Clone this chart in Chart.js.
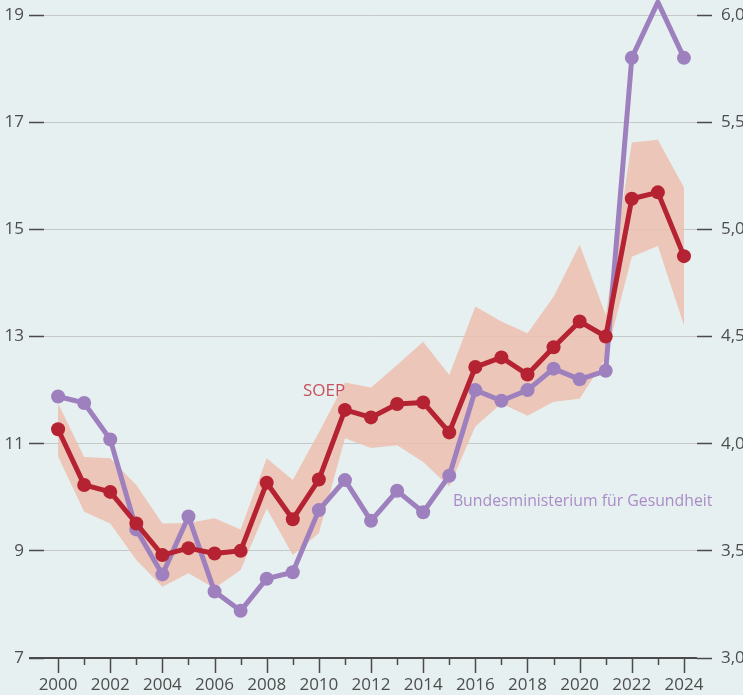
<!DOCTYPE html>
<html>
<head>
<meta charset="utf-8">
<script src="https://cdn.jsdelivr.net/npm/chart.js@4/dist/chart.umd.min.js"></script>
<style>
  html, body { margin: 0; padding: 0; background: #e7f0f1; overflow: hidden; }
  #wrap { width: 743px; height: 695px; position: relative; }
  canvas { display: block; }
</style>
</head>
<body>
<div id="wrap"><canvas id="c" width="743" height="695"></canvas></div>
<script>
// ---- data ----
const years = [2000,2001,2002,2003,2004,2005,2006,2007,2008,2009,2010,2011,2012,2013,2014,2015,2016,2017,2018,2019,2020,2021,2022,2023,2024];
// SOEP (left axis)
const soep = [11.27,10.23,10.10,9.51,8.92,9.05,8.95,9.00,10.27,9.59,10.33,11.63,11.49,11.74,11.77,11.21,12.43,12.61,12.29,12.80,13.28,13.00,15.57,15.69,14.50];
const soepUpper = [11.75,10.75,10.73,10.23,9.51,9.52,9.61,9.40,10.73,10.32,11.21,12.14,12.05,12.47,12.90,12.28,13.56,13.28,13.06,13.74,14.71,13.40,16.62,16.67,15.78];
const soepLower = [10.76,9.73,9.51,8.83,8.33,8.58,8.30,8.64,9.79,8.92,9.33,11.10,10.92,10.97,10.66,10.20,11.32,11.75,11.52,11.78,11.84,12.60,14.49,14.69,13.21];
// Bundesministerium für Gesundheit (right axis, percent)
const bmg = [4.22,4.19,4.02,3.60,3.39,3.66,3.31,3.22,3.37,3.40,3.69,3.83,3.64,3.78,3.68,3.85,4.25,4.20,4.25,4.35,4.30,4.34,5.80,6.06,5.80];
const leftTicks = [7,9,11,13,15,17,19];
const rightTicks = [3.0,3.5,4.0,4.5,5.0,5.5,6.0];
const labelSoep = 'SOEP';
const labelBmg = 'Bundesministerium für Gesundheit';

const pts = arr => years.map((y, i) => ({x: y, y: arr[i]}));

const RED = '#b52231';
const PURPLE = '#9d80bd';
const BAND = 'rgba(236,190,175,0.85)';
const TICKC = '#4a4a4a';

Chart.defaults.font.family = "'Open Sans', 'Noto Sans', sans-serif";
Chart.defaults.font.size = 17;
Chart.defaults.color = '#4d4d4d';

const noPad = s => { s.paddingTop = 0; s.paddingBottom = 0; s.paddingLeft = 0; s.paddingRight = 0; };

const decor = {
  id: 'decor',
  afterDraw(chart) {
    const ctx = chart.ctx;
    const x = chart.scales.x, a = chart.chartArea;
    ctx.save();
    ctx.strokeStyle = TICKC;
    ctx.lineWidth = 2;
    ctx.beginPath();
    ctx.moveTo(a.left - 15, a.bottom);
    ctx.lineTo(a.right, a.bottom);
    ctx.stroke();
    ctx.lineWidth = 1.5;
    years.forEach(yr => {
      const px = Math.round(x.getPixelForValue(yr)) + 0.5;
      const len = yr % 2 === 0 ? 15 : 7;
      ctx.beginPath();
      ctx.moveTo(px, a.bottom);
      ctx.lineTo(px, a.bottom + len);
      ctx.stroke();
    });
    ctx.restore();
  },
  afterDatasetsDraw(chart) {
    const ctx = chart.ctx;
    const x = chart.scales.x, yl = chart.scales.y;
    ctx.save();
    ctx.textBaseline = 'middle';
    ctx.font = "17px 'Open Sans', 'Noto Sans', sans-serif";
    ctx.fillStyle = '#c9505c';
    ctx.textAlign = 'center';
    ctx.fillText(labelSoep, x.getPixelForValue(2010.2), yl.getPixelForValue(11.98));
    ctx.font = "15.8px 'Open Sans', 'Noto Sans', sans-serif";
    ctx.fillStyle = '#a98cc6';
    ctx.textAlign = 'left';
    ctx.fillText(labelBmg, x.getPixelForValue(2015.14), yl.getPixelForValue(9.93));
    ctx.restore();
  }
};

new Chart(document.getElementById('c'), {
  type: 'line',
  data: {
    datasets: [
      { label: labelSoep, data: pts(soep), yAxisID: 'y', borderColor: RED, backgroundColor: RED,
        borderWidth: 5, pointRadius: 7, pointHoverRadius: 7, pointBorderWidth: 0, tension: 0, clip: false,
        borderJoinStyle: 'round', fill: false },
      { label: labelBmg, data: pts(bmg), yAxisID: 'y2', borderColor: PURPLE, backgroundColor: PURPLE,
        borderWidth: 5, pointRadius: 7, pointHoverRadius: 7, pointBorderWidth: 0, tension: 0, clip: false,
        borderJoinStyle: 'round', fill: false },
      { label: 'upper', data: pts(soepUpper), yAxisID: 'y', borderWidth: 0, pointRadius: 0,
        backgroundColor: BAND, borderColor: 'transparent', fill: '+1', tension: 0 },
      { label: 'lower', data: pts(soepLower), yAxisID: 'y', borderWidth: 0, pointRadius: 0,
        backgroundColor: BAND, borderColor: 'transparent', fill: false, tension: 0 }
    ]
  },
  options: {
    responsive: false,
    animation: false,
    events: [],
    layout: { autoPadding: false, padding: { top: 15, left: 0, right: 0, bottom: 0 } },
    plugins: { legend: { display: false }, tooltip: { enabled: false } },
    scales: {
      x: {
        type: 'linear', min: 1999.46, max: 2024.5,
        afterBuildTicks: s => { s.ticks = years.map(v => ({value: v})); },
        afterFit: s => { s.height = 37; noPad(s); },
        border: { display: false },
        grid: { display: true, drawOnChartArea: false, drawTicks: true, tickLength: 15, tickColor: 'transparent' },
        ticks: { padding: 2, maxRotation: 0, autoSkip: false,
          callback: v => (v % 2 === 0 ? String(v) : '') }
      },
      y: {
        position: 'left', min: 7, max: 19,
        afterBuildTicks: s => { s.ticks = leftTicks.map(v => ({value: v})); },
        afterFit: s => { s.width = 44; noPad(s); },
        border: { display: false },
        grid: { color: '#c6c8c8', lineWidth: 1, drawTicks: true, tickLength: 15, tickColor: TICKC, tickWidth: 1.5 },
        ticks: { padding: 5, callback: v => String(v) }
      },
      y2: {
        position: 'right', min: 3, max: 6,
        afterBuildTicks: s => { s.ticks = rightTicks.map(v => ({value: v})); },
        afterFit: s => { s.width = 46; noPad(s); },
        border: { display: false },
        grid: { drawOnChartArea: false, drawTicks: true, tickLength: 15, tickColor: TICKC, tickWidth: 1.5 },
        ticks: { padding: 9, callback: v => v.toFixed(1).replace('.', ',') }
      }
    }
  },
  plugins: [decor]
});
</script>
</body>
</html>
